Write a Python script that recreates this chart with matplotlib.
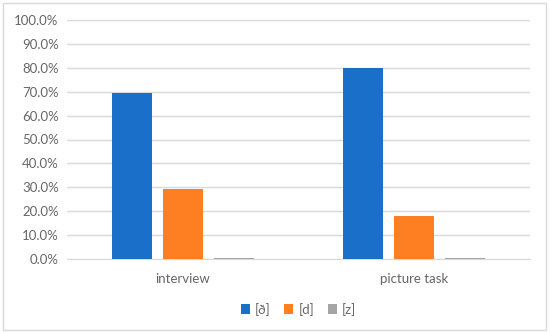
import matplotlib.pyplot as plt
import numpy as np
from matplotlib.patches import Rectangle
from matplotlib.ticker import FuncFormatter

# data
categories = ['interview', 'picture task']
series_names = ['[ð]', '[d]', '[z]']
eth_vals = [69.5, 80.0]
d_vals = [29.3, 18.2]
z_vals = [0.4, 0.4]
colors = ['#1a70c8', '#fd7f22', '#a5a5a5']

plt.rcParams['font.family'] = ['Lato', 'DejaVu Sans']

fig = plt.figure(figsize=(5.5, 3.33), dpi=100)
fig.patches.append(Rectangle((3/550, 3/333), 543/550, 327/333, transform=fig.transFigure,
                             fill=False, edgecolor='#d9d9d9', linewidth=1))
ax = fig.add_axes([67/550, 1 - 259/333, 463/550, 239/333])

x = np.arange(len(categories))
w = 0.173
step = 0.22
for i, (vals, name) in enumerate(zip([eth_vals, d_vals, z_vals], series_names)):
    ax.bar(x + (i - 1) * step, vals, w, color=colors[i], label=name, zorder=3)

ax.set_xlim(-0.5, 1.5)
ax.set_ylim(0, 100)
ax.set_yticks(np.arange(0, 101, 10))
ax.yaxis.set_major_formatter(FuncFormatter(lambda v, p: f'{v:.1f}%'))
ax.set_xticks(x)
ax.set_xticklabels(categories)
ax.grid(axis='y', color='#d9d9d9', linewidth=1, zorder=0)
for s in ['top', 'right', 'left']:
    ax.spines[s].set_visible(False)
ax.spines['bottom'].set_color('#d9d9d9')
ax.tick_params(axis='both', length=0, colors='#666666', labelsize=9.5)
ax.tick_params(axis='x', pad=10)
ax.tick_params(axis='y', pad=6)

leg = ax.legend(loc='center', bbox_to_anchor=(0.5, -0.21), ncol=3, frameon=False,
                fontsize=9.5, handlelength=0.7, handleheight=0.7, handletextpad=0.4,
                columnspacing=1.0)
for t in leg.get_texts():
    t.set_color('#666666')

fig.savefig('out.png', dpi=100)
